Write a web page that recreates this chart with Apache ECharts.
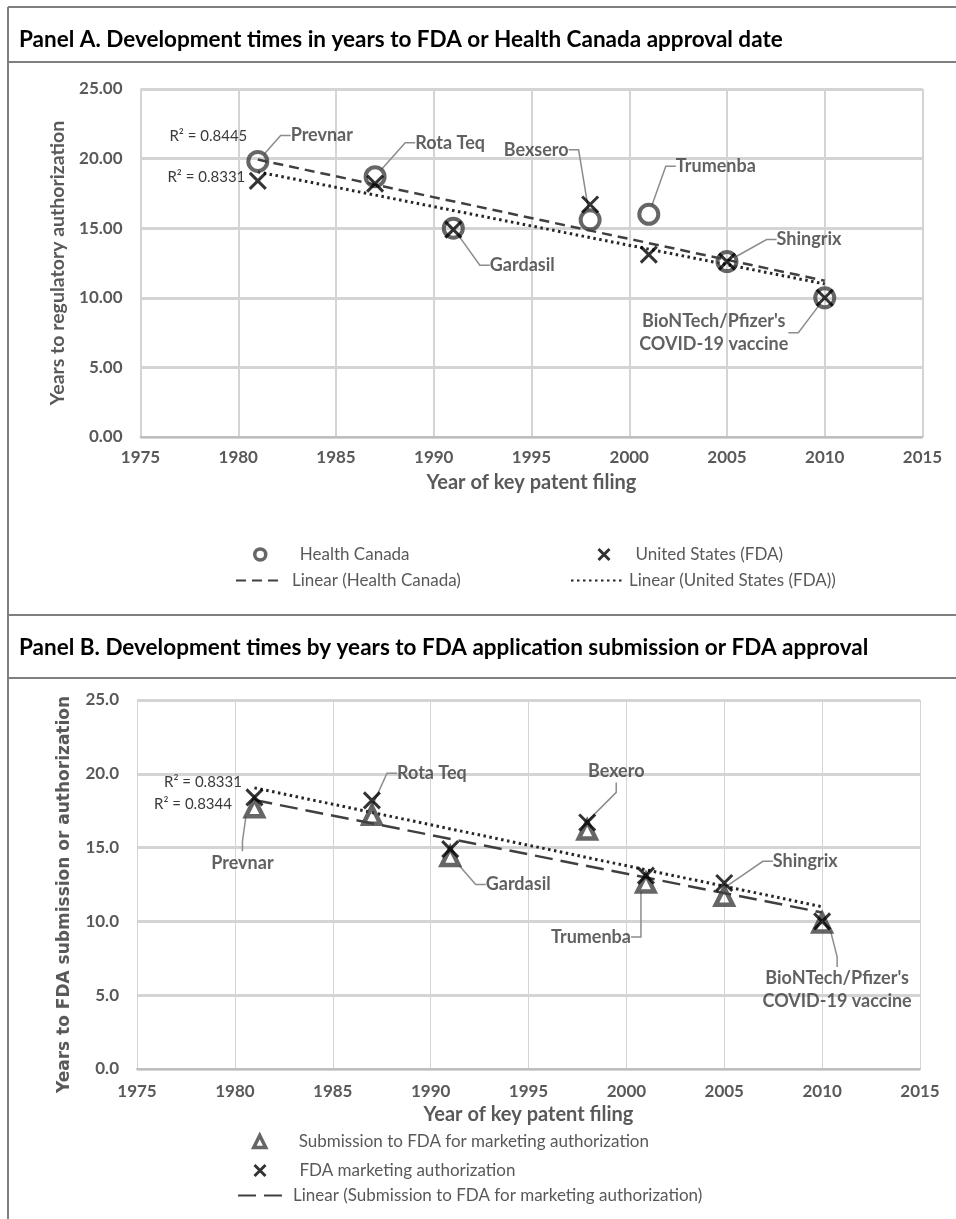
<!DOCTYPE html>
<html><head><meta charset="utf-8">
<script src="https://cdn.jsdelivr.net/npm/echarts@6/dist/echarts.min.js"></script>
<style>html,body{margin:0;padding:0;background:#fff}#c{width:956px;height:1219px}</style>
</head><body><div id="c"></div>
<script>
// ---------- data ----------
const patentYears = [1981, 1987, 1991, 1998, 2001, 2005, 2010];
const vaccineNamesA = ['Prevnar', 'Rota Teq', 'Gardasil', 'Bexsero', 'Trumenba', 'Shingrix', "BioNTech/Pfizer's\nCOVID-19 vaccine"];
const vaccineNamesB = ['Prevnar', 'Rota Teq', 'Gardasil', 'Bexero', 'Trumenba', 'Shingrix', "BioNTech/Pfizer's\nCOVID-19 vaccine"];
const healthCanadaYears = [19.8, 18.7, 15.0, 15.6, 16.0, 12.6, 10.0];
const fdaApprovalYears = [18.4, 18.2, 14.9, 16.7, 13.1, 12.6, 10.0];
const fdaSubmissionYears = [17.7, 17.2, 14.4, 16.2, 12.6, 11.7, 9.9];
const r2LabelsA = ['R\u00b2 = 0.8445', 'R\u00b2 = 0.8331'];
const r2LabelsB = ['R\u00b2 = 0.8331', 'R\u00b2 = 0.8344'];
const xAxisRange = [1975, 2015];
const xTickStep = 5;
const yAxisRange = [0, 25];
const yTickStep = 5;
const titleA = 'Panel A. Development times in years to FDA or Health Canada approval date';
const titleB = 'Panel B. Development times by years to FDA application submission or FDA approval';

// ---------- layout (not data) ----------
const labelOffsetsA = [[64, -26], [75, -34], [69, 37], [-54, -70], [67, -48], [82, -22], [-111, 35]];
const labelOffsetsB = [[-12, 55], [60, -42], [68, 28], [29, -59], [-55, 54], [81, -35], [15, 67]];

function pairs(xs, ys) { return xs.map((x, i) => [x, ys[i]]); }
function linearFit(xs, ys) {
  const n = xs.length;
  const mx = xs.reduce((a, b) => a + b, 0) / n;
  const my = ys.reduce((a, b) => a + b, 0) / n;
  let sxy = 0, sxx = 0;
  for (let i = 0; i < n; i++) { sxy += (xs[i] - mx) * (ys[i] - my); sxx += (xs[i] - mx) * (xs[i] - mx); }
  const b = sxy / sxx, a = my - b * mx;
  const x0 = Math.min(...xs), x1 = Math.max(...xs);
  return [[x0, a + b * x0], [x1, a + b * x1]];
}

const FONT = 'Lato';
const GREY_TXT = '#595959';
const LBL_TXT = '#3a3a3a';

function trend(name, xi, ys, dash, width, color, r2, r2opt) {
  const pts = linearFit(patentYears, ys);
  return {
    type: 'line', name: name, xAxisIndex: xi, yAxisIndex: xi,
    symbol: 'circle', symbolSize: 1, itemStyle: { color: 'transparent' },
    lineStyle: { color: color, width: width, type: dash, cap: 'butt' },
    z: 2, silent: true,
    data: [
      { value: pts[0], label: Object.assign({ show: true, formatter: r2, position: 'left', fontFamily: FONT, fontSize: 15, color: LBL_TXT }, r2opt) },
      { value: pts[1] }
    ]
  };
}

function markerSeries(name, xi, ys, symbol, size, style, labels, offsets) {
  const s = {
    type: 'scatter', name: name, xAxisIndex: xi, yAxisIndex: xi,
    symbol: symbol, symbolSize: size, itemStyle: style, z: 3, silent: true,
    data: pairs(patentYears, ys)
  };
  if (labels) {
    s.label = {
      show: true, position: 'inside', formatter: p => labels[p.dataIndex],
      fontFamily: FONT, fontWeight: 'bold', fontSize: 18, color: LBL_TXT, align: 'center', lineHeight: 23
    };
    s.labelLine = { show: true, length2: 10, lineStyle: { color: '#8c8c8c', width: 1.5 } };
    s.labelLayout = p => ({ dx: offsets[p.dataIndex][0], dy: offsets[p.dataIndex][1], hideOverlap: false });
  }
  return s;
}

const crossPath = 'path://M0,0L10,10M10,0L0,10';
const circleStyle = { color: 'transparent', borderColor: '#404040', borderWidth: 4 };
const crossStyle = { color: 'transparent', borderColor: '#000000', borderWidth: 3 };
const triStyle = { color: 'transparent', borderColor: '#404040', borderWidth: 4.5 };

function xAxisCfg(gi, vThin, margin) {
  return {
    type: 'value', gridIndex: gi, min: xAxisRange[0], max: xAxisRange[1], interval: xTickStep,
    name: 'Year of key patent filing', nameLocation: 'middle', nameGap: 36,
    nameTextStyle: { fontFamily: FONT, fontWeight: 'bold', fontSize: 20, color: GREY_TXT },
    axisLine: { show: true, onZero: false, lineStyle: { color: '#bfbfbf', width: 2 } },
    axisTick: { show: false },
    axisLabel: { margin: margin, fontFamily: FONT, fontWeight: 'bold', fontSize: 17, color: GREY_TXT, formatter: v => String(v) },
    splitLine: { show: true, lineStyle: { color: '#d4d4d4', width: vThin } }
  };
}
function yAxisCfg(gi, name, decimals, nameFont, nameGap) {
  return {
    type: 'value', gridIndex: gi, min: yAxisRange[0], max: yAxisRange[1], interval: yTickStep,
    name: name, nameLocation: 'middle', nameRotate: 90, nameGap: nameGap,
    nameTextStyle: nameFont,
    axisLine: { show: false }, axisTick: { show: false },
    axisLabel: { margin: 18, fontFamily: FONT, fontWeight: 'bold', fontSize: 17, color: GREY_TXT, formatter: v => v.toFixed(decimals) },
    splitLine: { show: true, lineStyle: { color: '#d4d4d4', width: 3 } }
  };
}

function leg(name, left, top, w, h, padLeft, extra) {
  return Object.assign({
    data: [name], left: left, top: top, padding: 0, itemWidth: w, itemHeight: h, selectedMode: false,
    textStyle: { fontFamily: FONT, fontSize: 17, color: GREY_TXT, padding: [0, 0, 0, padLeft] }
  }, extra || {});
}

const chart = echarts.init(document.getElementById('c'), null, { renderer: 'canvas' });
const option = {
  animation: false,
  backgroundColor: '#fff',
  title: [
    { text: titleA, left: 19, top: 28, padding: 0, textStyle: { fontFamily: FONT, fontWeight: 'bold', fontSize: 22.5, color: '#000' } },
    { text: titleB, left: 19, top: 636, padding: 0, textStyle: { fontFamily: FONT, fontWeight: 'bold', fontSize: 22.5, color: '#000' } }
  ],
  grid: [
    { left: 140.5, top: 89, width: 782, height: 348 },
    { left: 137, top: 700, width: 783, height: 369 }
  ],
  xAxis: [xAxisCfg(0, 2, 12), xAxisCfg(1, 1, 14)],
  yAxis: [
    yAxisCfg(0, 'Years to regulatory authorization', 2, { fontFamily: FONT, fontWeight: 'bold', fontSize: 19.5, color: GREY_TXT }, 66),
    yAxisCfg(1, 'Years to FDA submission or authorization', 1, { fontFamily: 'DejaVu Sans', fontWeight: 'bold', fontSize: 17, color: GREY_TXT, padding: [0, 20, 0, 0] }, 64)
  ],
  legend: [
    leg('Health Canada', 253, 546, 11, 11, 29, { itemStyle: { borderWidth: 3.5 } }),
    leg('United States (FDA)', 597, 546, 11, 11, 21, { itemStyle: { borderWidth: 3 } }),
    leg('Linear (Health Canada)', 235, 572, 47, 14, 4, { itemStyle: { opacity: 0 } }),
    leg('Linear (United States (FDA))', 570, 572, 53, 14, 0, { itemStyle: { opacity: 0 } }),
    leg('Submission to FDA for marketing authorization', 252, 1133, 12, 12, 28, { itemStyle: { borderWidth: 3.5 } }),
    leg('FDA marketing authorization', 253, 1162, 11, 11, 29, { itemStyle: { borderWidth: 3 } }),
    leg('Linear (Submission to FDA for marketing authorization)', 237, 1187, 50, 14, 0, { itemStyle: { opacity: 0 } })
  ],
  graphic: [
    { type: 'line', shape: { x1: 8, y1: 7, x2: 956, y2: 7 }, style: { stroke: '#7f7f7f', lineWidth: 2 }, silent: true },
    { type: 'line', shape: { x1: 8, y1: 7, x2: 8, y2: 1219 }, style: { stroke: '#7f7f7f', lineWidth: 2 }, silent: true },
    { type: 'line', shape: { x1: 8, y1: 62, x2: 956, y2: 62 }, style: { stroke: '#7f7f7f', lineWidth: 2 }, silent: true },
    { type: 'line', shape: { x1: 8, y1: 615, x2: 956, y2: 615 }, style: { stroke: '#7f7f7f', lineWidth: 2 }, silent: true },
    { type: 'line', shape: { x1: 8, y1: 678, x2: 956, y2: 678 }, style: { stroke: '#7f7f7f', lineWidth: 2 }, silent: true }
  ],
  series: [
    trend('Linear (Health Canada)', 0, healthCanadaYears, [10, 6], 2.5, '#404040', r2LabelsA[0], { distance: 10, offset: [0, -23] }),
    trend('Linear (United States (FDA))', 0, fdaApprovalYears, [2.5, 3.5], 3, '#262626', r2LabelsA[1], { distance: 12, offset: [0, 5] }),
    markerSeries('Health Canada', 0, healthCanadaYears, 'circle', 19, circleStyle, vaccineNamesA, labelOffsetsA),
    markerSeries('United States (FDA)', 0, fdaApprovalYears, crossPath, 16, crossStyle),
    trend('Linear (Submission to FDA for marketing authorization)', 1, fdaSubmissionYears, [18, 8], 2.5, '#404040', r2LabelsB[1], { distance: 22, offset: [0, 4] }),
    trend('Linear (FDA marketing authorization)', 1, fdaApprovalYears, [2.5, 3.5], 3, '#262626', r2LabelsB[0], { distance: 12, offset: [0, -6] }),
    markerSeries('Submission to FDA for marketing authorization', 1, fdaSubmissionYears, 'triangle', 17, triStyle, vaccineNamesB, labelOffsetsB),
    markerSeries('FDA marketing authorization', 1, fdaApprovalYears, crossPath, 16, crossStyle)
  ]
};
chart.setOption(option);
</script>
</body></html>
